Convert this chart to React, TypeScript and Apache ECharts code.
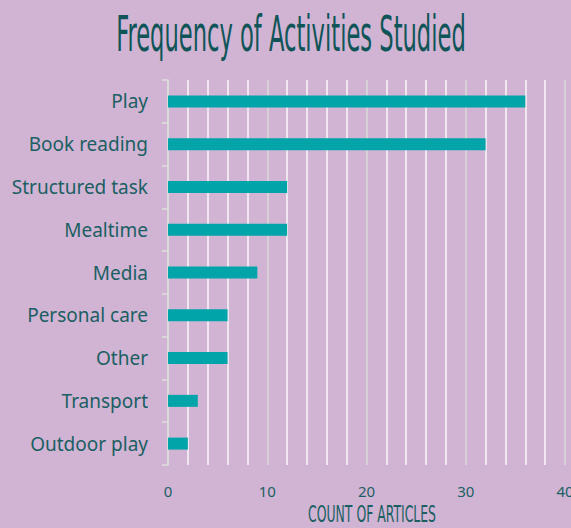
import React, { useEffect, useRef } from "react";
import * as echarts from "echarts";

const categories = [
  "Play",
  "Book reading",
  "Structured task",
  "Mealtime",
  "Media",
  "Personal care",
  "Other",
  "Transport",
  "Outdoor play",
];
const counts = [36, 32, 12, 12, 9, 6, 6, 3, 2];
const xMin = 0;
const xMax = 40;
const xInterval = 10;
const titleText = "Frequency of Activities Studied";
const axisTitle = "COUNT OF ARTICLES";

const BG = "#d1b4d4";
const TEAL_DARK = "#0f5558";
const TEXT = "#1a5f62";
const BAR = "#00a4a9";
const NARROW = "'Liberation Sans Narrow', 'DejaVu Sans Condensed', 'Liberation Sans', sans-serif";

function measure(text: string, font: string): number {
  const ctx = document.createElement("canvas").getContext("2d");
  if (!ctx) return 1;
  ctx.font = font;
  return ctx.measureText(text).width || 1;
}

export default function App() {
  const ref = useRef<HTMLDivElement>(null);
  useEffect(() => {
    document.body.style.margin = "0";
    document.body.style.overflow = "hidden";
    if (!ref.current) return;
    const chart = echarts.init(ref.current, null, { renderer: "svg", width: 571, height: 528 });

    const titleSize = 50;
    const titleW = measure(titleText, `${titleSize}px ${NARROW}`);
    const titleScale = 350 / titleW;
    const nameSize = 23;
    const nameW = measure(axisTitle, `${nameSize}px ${NARROW}`);
    const nameScale = 128 / nameW;

    chart.setOption({
      animation: false,
      backgroundColor: BG,
      grid: {
        left: 168,
        right: 6,
        top: 80,
        bottom: 63,
        containLabel: false,
        outerBoundsMode: "none",
      },
      xAxis: {
        type: "value",
        min: xMin,
        max: xMax,
        interval: xInterval,
        axisLine: { show: false },
        axisTick: { show: false },
        axisLabel: {
          color: TEXT,
          fontFamily: "Noto Sans",
          fontSize: 15,
          margin: 18,
        },
        splitLine: { show: true, lineStyle: { color: "#d9d9d9", width: 1.6 } },
        minorTick: { show: false, splitNumber: 5 },
        minorSplitLine: { show: true, lineStyle: { color: "#f7f3f7", width: 1.6 } },
      },
      yAxis: {
        type: "category",
        data: categories,
        inverse: true,
        axisLine: { show: true, lineStyle: { color: "#dcdcdc", width: 1.6 } },
        axisTick: { show: true, length: 6, lineStyle: { color: "#dcdcdc", width: 1.6 } },
        axisLabel: {
          color: TEXT,
          fontFamily: "Noto Sans",
          fontSize: 19,
          margin: 20,
        },
        splitLine: { show: false },
      },
      series: [
        {
          type: "bar",
          data: counts,
          barWidth: 12,
          itemStyle: { color: BAR },
          z: 3,
        },
      ],
      graphic: [
        {
          type: "text",
          x: 291,
          y: 33,
          scaleX: titleScale,
          style: {
            text: titleText,
            fontFamily: NARROW,
            fontSize: titleSize,
            fill: TEAL_DARK,
            textAlign: "center",
            textVerticalAlign: "middle",
          },
        },
        {
          type: "text",
          x: 372,
          y: 514,
          scaleX: nameScale,
          style: {
            text: axisTitle,
            fontFamily: NARROW,
            fontSize: nameSize,
            fill: TEXT,
            textAlign: "center",
            textVerticalAlign: "middle",
          },
        },
      ],
    });
    return () => chart.dispose();
  }, []);
  return <div ref={ref} style={{ width: 571, height: 528 }} />;
}
